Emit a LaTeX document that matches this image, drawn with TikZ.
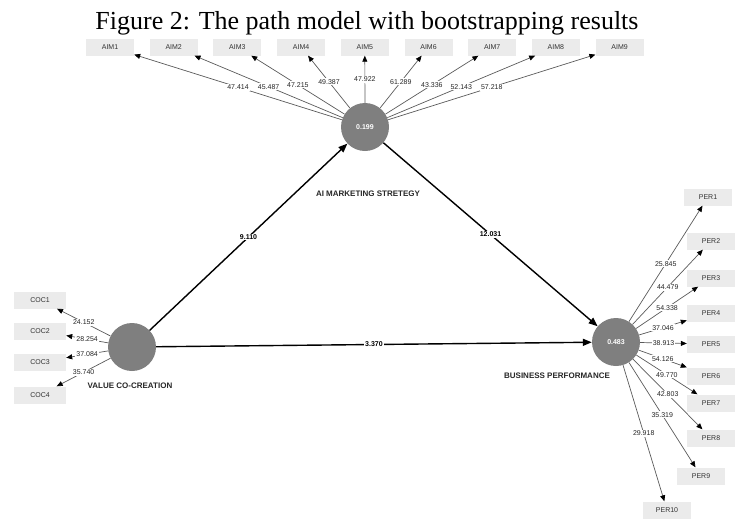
\documentclass[tikz,border=0pt]{standalone}
\usepackage{fontspec}
\setmainfont{Liberation Sans}
\newfontfamily\captionfont{Liberation Serif}
\usetikzlibrary{arrows.meta}
\definecolor{indbox}{HTML}{EBEBEB}
\definecolor{lvfill}{HTML}{7F7F7F}
\definecolor{loadline}{HTML}{5A5A5A}
\tikzset{
  ind/.style={fill=indbox, minimum width=48pt, minimum height=17pt, inner sep=0pt,
    font=\fontsize{7}{8}\selectfont, text=black!80},
  lv/.style={circle, fill=lvfill, minimum size=48pt, inner sep=0pt, text=white,
    font=\fontsize{7}{8}\selectfont\bfseries},
  load/.style={draw=loadline, line width=0.7pt, -{Triangle[length=6pt,width=5pt,color=black]}},
  inner/.style={draw=black, line width=1.4pt, -{Triangle[length=9pt,width=7pt]}},
  lval/.style={fill=white, inner sep=1pt, text=black!85, font=\fontsize{7}{8}\selectfont},
  pval/.style={fill=white, inner sep=1pt, font=\fontsize{7}{8}\selectfont\bfseries},
  lvname/.style={font=\fontsize{8}{9}\selectfont\bfseries, text=black!85}
}

\begin{document}
\begin{tikzpicture}[x=1pt, y=-1pt]
  \useasboundingbox (0,0) rectangle (735,520);
  \node[anchor=base, font=\captionfont\fontsize{26}{28}\selectfont] (title) at (367,29)
    {Figure 2: The path model with bootstrapping results};

  \node[lv] (ai)  at (365,127) {0.199};
  \node[lv] (vcc) at (132,347) {};
  \node[lv] (bp)  at (616,342) {0.483};
  \node[lvname] (ainame)  at (368,194) {AI MARKETING STRETEGY};
  \node[lvname] (vccname) at (130,386) {VALUE CO-CREATION};
  \node[lvname] (bpname)  at (557,376) {BUSINESS PERFORMANCE};

  \foreach \i/\val in {1/47.414, 2/45.487, 3/47.215, 4/49.387, 5/47.922,
                       6/61.289, 7/43.336, 8/52.143, 9/57.218} {
    \node[ind] (aim\i) at ({46.3+63.7*\i},47) {AIM\i};
    \draw[load] (ai) -- node[lval] {\val} (aim\i);
  }
  \foreach \i/\y/\val in {1/300/24.152, 2/331/28.254, 3/362/37.084, 4/395/35.740} {
    \node[ind, minimum width=52pt] (coc\i) at (40,\y) {COC\i};
    \draw[load] (vcc) -- node[lval] {\val} (coc\i);
  }
  \foreach \i/\x/\y/\val in {1/708/197/25.845, 2/711/241/44.479, 3/711/278/54.338,
                             4/711/313/37.046, 5/711/344/38.913, 6/711/376/54.126,
                             7/711/403/49.770, 8/711/438/42.803, 9/701/476/35.319,
                             10/667/510/29.918} {
    \node[ind] (per\i) at (\x,\y) {PER\i};
    \draw[load] (bp) -- node[lval] {\val} (per\i);
  }

  \draw[inner] (vcc) -- node[pval] {9.110} (ai);
  \draw[inner] (ai) -- node[pval] {12.031} (bp);
  \draw[inner] (vcc) -- node[pval] {3.370} (bp);
\end{tikzpicture}
\end{document}
